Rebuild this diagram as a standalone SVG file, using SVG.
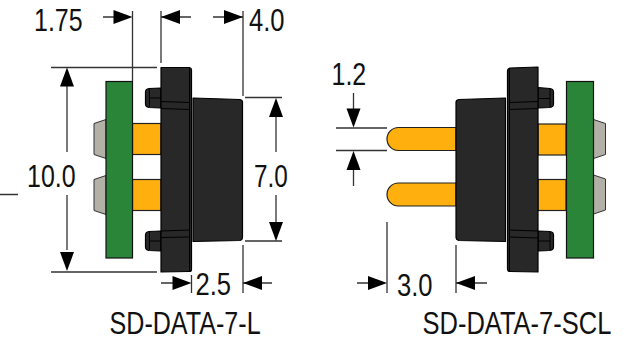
<svg xmlns="http://www.w3.org/2000/svg" width="635" height="340" viewBox="0 0 635 340">
<style>
text{font-family:"Liberation Sans",Arial,sans-serif;font-size:32px;fill:#111}
.dim{stroke:#333;stroke-width:1.3;fill:none}
.arr{fill:#000;stroke:none}
.blk{fill:#282828;stroke:#000;stroke-width:1.2;stroke-linejoin:round}
.ln{stroke:#000;stroke-width:1;fill:none}
.grn{fill:#2b8538;stroke:#111;stroke-width:1.2}
.org{fill:#ffb00f;stroke:#222;stroke-width:1.2}
.gry{fill:#b3b0a8;stroke:#333;stroke-width:1}
</style>
<defs>
<path id="a" class="arr" d="M0 0L-19 -7V7Z"/>
</defs>
<g id="connector-left">
<rect class="org" x="132.500" y="123.500" width="28.500" height="31"/>
<rect class="org" x="132.500" y="179.500" width="28.500" height="31"/>
<path class="gry" d="M106 119.500L94 123.500V154.500L106 158.500Z"/>
<path class="gry" d="M106 175.500L94 179.500V210.500L106 214.500Z"/>
<rect class="grn" x="106" y="81.500" width="26.500" height="176.500"/>
<path class="blk" d="M161 88L149 88.500Q145.500 89 145.500 92V104Q145.500 107 149 107.500L161 108Z"/>
<path class="blk" d="M161 231L149 231.500Q145.500 232 145.500 235V247Q145.500 250 149 250.500L161 251Z"/>
<path class="ln" d="M149.500 88.500V107M149.500 98H161M149.500 232V250M149.500 241H161"/>
<path class="blk" d="M193 98L240 99.500Q242.500 100 242.500 102V237Q242.500 240 240 240.500L193 241.500Z"/>
<path class="blk" d="M161 67.500H189.500Q191.500 68 191.500 70V269.500Q191.500 271.500 189.500 271.500L161 272Z"/>
<path class="ln" d="M189.500 68V271M161 101.500L190 102.500M161 108.500L190 109.500M161 231L190 230M161 237.500L190 237"/>
</g>
<g id="connector-right">
<path class="org" d="M456 127.500H398.500A11.500 11.500 0 0 0 398.500 150.500H456Z"/>
<path class="org" d="M456 183H398.500A11.500 11.500 0 0 0 398.500 206H456Z"/>
<rect class="org" x="538" y="124" width="28" height="31"/>
<rect class="org" x="538" y="179.500" width="28" height="31"/>
<path class="gry" d="M593.500 119.500L605.500 123.500V154.500L593.500 158.500Z"/>
<path class="gry" d="M593.500 175L605.500 179V210L593.500 214Z"/>
<rect class="grn" x="566.500" y="81.500" width="27" height="176.500"/>
<path class="blk" d="M538 87.500L550 88.500Q553.500 89 553.500 92V104Q553.500 107 550 107.500L538 108Z"/>
<path class="blk" d="M538 231L550 231.500Q553.500 232 553.500 235V247Q553.500 250 550 250.500L538 251Z"/>
<path class="ln" d="M550 88.500V107M538 98.500H550M550 232V250M538 241H550"/>
<path class="blk" d="M505.500 98L459 99.500Q456 100 456 102V237Q456 240 459 240.500L505.500 241.500Z"/>
<path class="blk" d="M538 67L510 68Q507.500 68.500 507.500 71V269Q507.500 271.500 510 271.500L538 272Z"/>
<path class="ln" d="M509.500 68V271M509 102.500L538 101.500M509 109.500L538 108.500M509 230L538 231M509 237L538 238"/>
</g>
<g id="connectors">
<path class="dim" d="M132.500 11V81M161 11V63M243 11V96M51 67.500H157M51 272H157M245 97.500H282M245 241H282M243 245V293M191.500 275V293M0 194.500H18"/>
<path class="dim" d="M103 17H120M191 17H161M213 17H243M67 86V152M67 195V250M276 116V152M276 195V222M161 283H180M272 283H243"/>
<path class="dim" d="M353.500 93V115M353.500 186V155M336 128H387M336 150.500H387M387 222V293M456 245V293M357 283H375M487 283H456"/>
<use href="#a" transform="translate(132.500 17)"/>
<use href="#a" transform="translate(161 17) rotate(180)"/>
<use href="#a" transform="translate(243 17)"/>
<use href="#a" transform="translate(67 67.500) rotate(-90)"/>
<use href="#a" transform="translate(67 271) rotate(90)"/>
<use href="#a" transform="translate(276 98) rotate(-90)"/>
<use href="#a" transform="translate(276 241) rotate(90)"/>
<use href="#a" transform="translate(191.500 283)"/>
<use href="#a" transform="translate(243 283) rotate(180)"/>
<use href="#a" transform="translate(353.500 127.500) rotate(90)"/>
<use href="#a" transform="translate(353.500 151) rotate(-90)"/>
<use href="#a" transform="translate(387 283)"/>
<use href="#a" transform="translate(456 283) rotate(180)"/>
</g>
<g id="labels">
<text transform="translate(34 31) scale(.78 1)">1.75</text>
<text transform="translate(249 31) scale(.8 1)">4.0</text>
<text transform="translate(27 187) scale(.78 1)">10.0</text>
<text transform="translate(254 187) scale(.76 1)">7.0</text>
<text transform="translate(195.500 295) scale(.8 1)">2.5</text>
<text transform="translate(331.500 85) scale(.78 1)">1.2</text>
<text transform="translate(397 296) scale(.8 1)">3.0</text>
<text transform="translate(109.500 334) scale(.785 1)">SD-DATA-7-L</text>
<text transform="translate(422.500 334) scale(.797 1)">SD-DATA-7-SCL</text>
</g>
</svg>
